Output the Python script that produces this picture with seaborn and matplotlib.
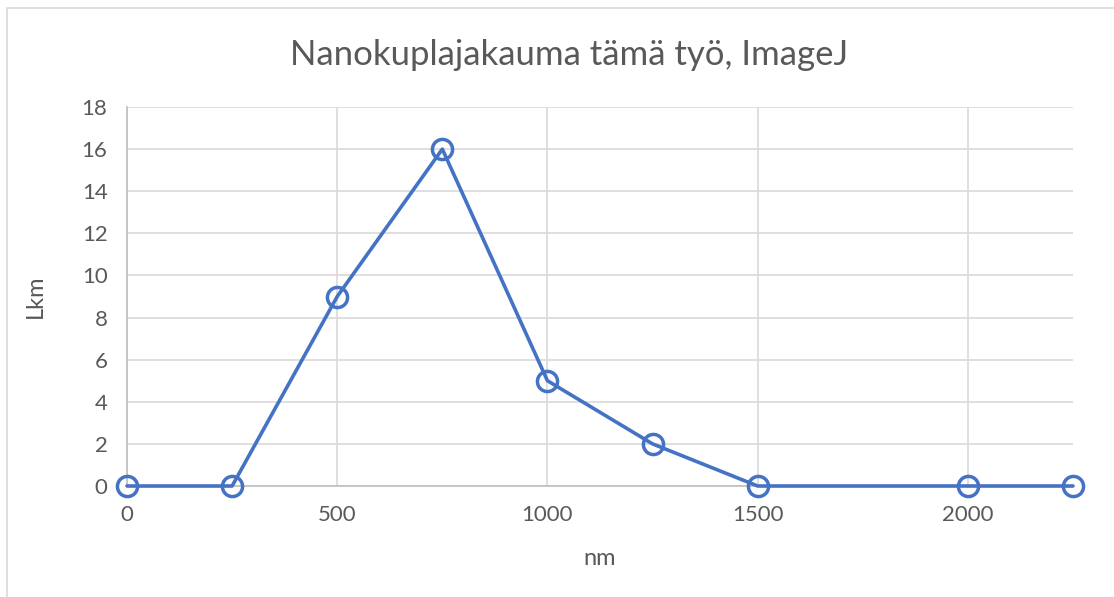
import pandas as pd
import seaborn as sns
import matplotlib.pyplot as plt
from matplotlib.patches import Rectangle

# data
nm = [0, 250, 500, 750, 1000, 1250, 1500, 2000, 2250]
lkm = [0, 0, 9, 16, 5, 2, 0, 0, 0]
x_ticks = [0, 500, 1000, 1500, 2000]
y_ticks = [0, 2, 4, 6, 8, 10, 12, 14, 16, 18]

df = pd.DataFrame({"nm": nm, "Lkm": lkm})

sns.set_theme(style="white")
plt.rcParams['font.family'] = ['Lato', 'DejaVu Sans']

fig = plt.figure(figsize=(11.14, 5.97), dpi=100)
ax = fig.add_axes([127/1114, 1-486/597, (1073-127)/1114, (486-107)/597])

blue = "#4472C4"
sns.lineplot(data=df, x="nm", y="Lkm", ax=ax, color=blue, linewidth=2.6,
             marker="o", markersize=14.5, markerfacecolor="none",
             markeredgecolor=blue, markeredgewidth=2.5, clip_on=False, zorder=3)

ax.set_xlim(0, 2250)
ax.set_ylim(0, 18)
ax.set_xticks(x_ticks)
ax.set_yticks(y_ticks)
ax.grid(True, color="#d9d9d9", linewidth=1.2)
ax.set_axisbelow(True)
for s in ["top", "right"]:
    ax.spines[s].set_visible(False)
for s in ["left", "bottom"]:
    ax.spines[s].set_color("#bfbfbf")
    ax.spines[s].set_linewidth(1.2)
ax.tick_params(axis="both", length=0, labelsize=16, labelcolor="#595959")
ax.tick_params(axis="y", pad=14)
ax.tick_params(axis="x", pad=14)

ax.set_xlabel("nm", fontsize=17, color="#595959", labelpad=16)
ax.set_ylabel("Lkm", fontsize=17, color="#595959", labelpad=26)
fig.text(569/1114, 1-55/597, "Nanokuplajakauma tämä työ, ImageJ", ha="center",
         va="center", fontsize=25, color="#595959")

# chart frame (only left and top visible in the crop)
fig.patches.append(Rectangle((7/1114, -0.1), 1.2, 1-8/597+0.1,
                             transform=fig.transFigure, fill=False,
                             edgecolor="#d9d9d9", linewidth=1.2))

fig.savefig("out.png", dpi=100)
